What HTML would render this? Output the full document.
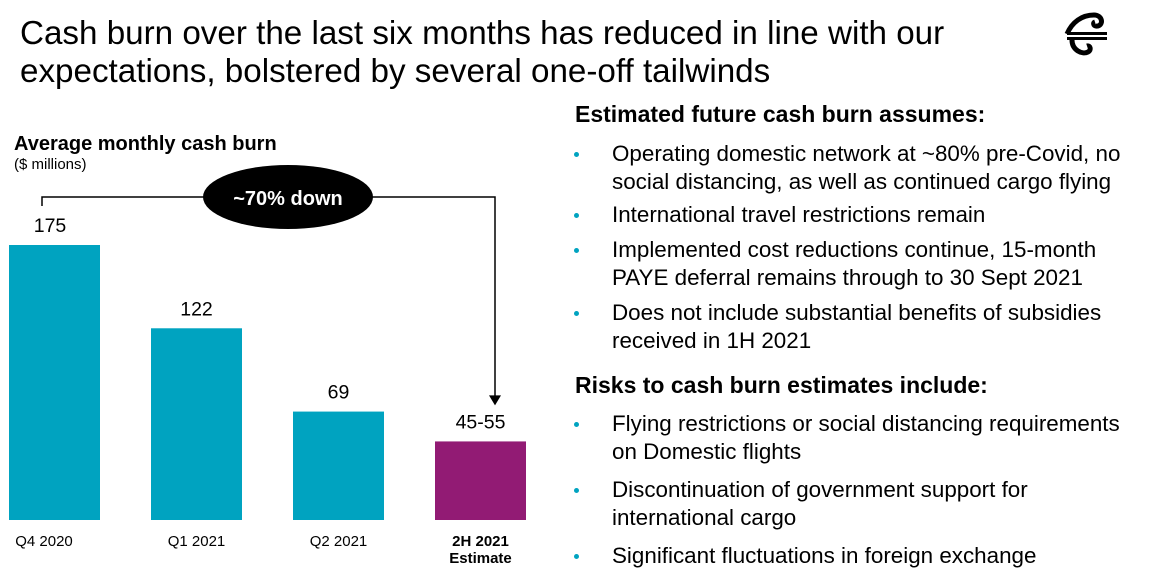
<!DOCTYPE html>
<html><head><meta charset="utf-8"><style>
body{margin:0;width:1153px;height:573px;background:#fff;font-family:"Liberation Sans",sans-serif;position:relative;overflow:hidden;color:#000}
.t{position:absolute;white-space:nowrap}
.h1{font-size:33.2px;left:20px;line-height:38px}
.hd{font-size:23px;font-weight:bold;left:575px}
.b{font-size:22.4px;left:612px}
.dot{position:absolute;left:574px;width:5px;height:5px;border-radius:50%;background:#00a3c0}
</style></head><body>
<div class="t h1" style="top:15px">Cash burn over the last six months has reduced in line with our<br>expectations, bolstered by several one-off tailwinds</div>
<svg style="position:absolute;left:1062px;top:10px" width="50" height="48" viewBox="0 0 50 48">
<path d="M5 24 C10 12 20 5 32 5 C40 5 42 14 36 16 C32 17 30 13 33 12" fill="none" stroke="#000" stroke-width="5"/>
<rect x="5" y="22" width="40" height="3" fill="#000"/><rect x="5" y="27" width="40" height="3" fill="#000"/>
<path d="M10 30 C10 40 20 45 26 42 C30 40 28 35 25 36" fill="none" stroke="#000" stroke-width="5"/>
</svg>
<div class="t" style="left:14px;top:133px;font-size:20px;font-weight:bold">Average monthly cash burn</div>
<div class="t" style="left:14px;top:156px;font-size:15px">($ millions)</div>
<svg id="chart" style="position:absolute;left:0;top:0" width="560" height="573"></svg>

<div class="t hd" style="top:101px">Estimated future cash burn assumes:</div>
<div class="dot" style="top:152px"></div><div class="t b" style="top:140px;line-height:28px">Operating domestic network at ~80% pre-Covid, no<br>social distancing, as well as continued cargo flying</div>
<div class="dot" style="top:213px"></div><div class="t b" style="top:201px;line-height:28px">International travel restrictions remain</div>
<div class="dot" style="top:248px"></div><div class="t b" style="top:236px;line-height:28px">Implemented cost reductions continue, 15-month<br>PAYE deferral remains through to 30 Sept 2021</div>
<div class="dot" style="top:311px"></div><div class="t b" style="top:299px;line-height:28px">Does not include substantial benefits of subsidies<br>received in 1H 2021</div>
<div class="t hd" style="top:372px">Risks to cash burn estimates include:</div>
<div class="dot" style="top:422px"></div><div class="t b" style="top:410px;line-height:28px">Flying restrictions or social distancing requirements<br>on Domestic flights</div>
<div class="dot" style="top:488px"></div><div class="t b" style="top:476px;line-height:28px">Discontinuation of government support for<br>international cargo</div>
<div class="dot" style="top:554px"></div><div class="t b" style="top:542px;line-height:28px">Significant fluctuations in foreign exchange</div>

<script>
const categories=["Q4 2020","Q1 2021","Q2 2021","2H 2021|Estimate"];
const values=[175,122,69,50];
const valueLabels=["175","122","69","45-55"];
const colors=["#00a3c0","#00a3c0","#00a3c0","#921b74"];
const NS="http://www.w3.org/2000/svg";
const svg=document.getElementById('chart');
const base=520, scale=275/175;
const xOf=i=>9+i*142, bw=91;
const yOf=v=>base-v*scale;
function mk(t,a){const e=document.createElementNS(NS,t);for(const k in a)e.setAttribute(k,a[k]);svg.appendChild(e);return e;}
mk('path',{d:`M42 206 V197 H495 V${yOf(values[3])-44}`,fill:'none',stroke:'#000','stroke-width':1.5});
const ar=mk('path',{d:`M489 ${yOf(values[3])-46} L501 ${yOf(values[3])-46} L495 ${yOf(values[3])-36} Z`,fill:'#000'});


const el=mk('ellipse',{cx:288,cy:197,rx:85,ry:32,fill:'#000'});


const ct=mk('text',{x:288,y:205,'text-anchor':'middle','font-size':20,'font-weight':'bold',fill:'#fff'});
ct.textContent='~70% down';


values.forEach((v,i)=>{
  const r=mk('rect',{x:xOf(i),y:yOf(v),width:bw,height:base-yOf(v),fill:colors[i]});
  
  
  const t=mk('text',{x:i==0?50:xOf(i)+bw/2,y:yOf(v)-13,'text-anchor':'middle','font-size':19.5});
  t.textContent=valueLabels[i];
  
  
  const parts=categories[i].split('|');
  parts.forEach((p,j)=>{
    const c=mk('text',{x:i==0?44:xOf(i)+bw/2,y:546+j*17,'text-anchor':'middle','font-size':15,'font-weight':parts.length>1?'bold':'normal'});
    c.textContent=p;
    
    
  });
});
</script>
</body></html>
